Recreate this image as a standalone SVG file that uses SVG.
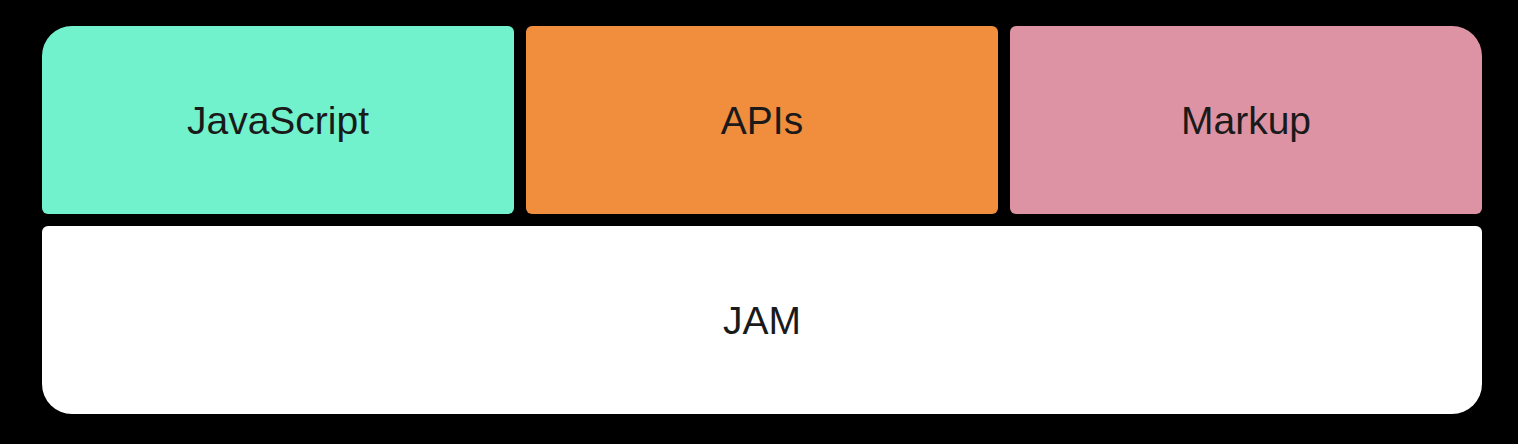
<svg xmlns="http://www.w3.org/2000/svg" width="1518" height="444" viewBox="0 0 1518 444">
<style>
.lbl{font-family:"Liberation Sans",Arial,sans-serif;font-size:39px;fill:#1a1a1a;text-anchor:middle;dominant-baseline:central}
</style>
<rect width="1518" height="444" fill="#000"/>
<g id="javascript">
<path d="M42,56 A30,30 0 0 1 72,26 H508 A6,6 0 0 1 514,32 V208 A6,6 0 0 1 508,214 H48 A6,6 0 0 1 42,208 Z" fill="#71F2CC"/>
<text class="lbl" x="278" y="120">JavaScript</text>
</g>
<g id="apis">
<rect x="526" y="26" width="472" height="188" rx="6" fill="#F08E3E"/>
<text class="lbl" x="762" y="120">APIs</text>
</g>
<g id="markup">
<path d="M1010,32 A6,6 0 0 1 1016,26 H1452 A30,30 0 0 1 1482,56 V208 A6,6 0 0 1 1476,214 H1016 A6,6 0 0 1 1010,208 Z" fill="#DD93A4"/>
<text class="lbl" x="1246" y="120">Markup</text>
</g>
<g id="jam">
<path d="M42,232 A6,6 0 0 1 48,226 H1476 A6,6 0 0 1 1482,232 V384 A30,30 0 0 1 1452,414 H72 A30,30 0 0 1 42,384 Z" fill="#FFFFFF"/>
<text class="lbl" x="762" y="320">JAM</text>
</g>
<g id="connectors"></g>
</svg>
